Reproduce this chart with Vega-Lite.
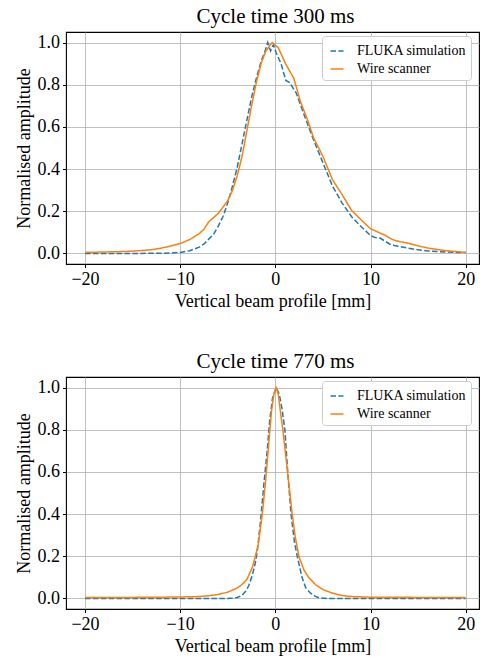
{
  "$schema": "https://vega.github.io/schema/vega-lite/v6.json",
  "padding": {"left": 14, "top": 5, "right": 0, "bottom": 0},
  "spacing": 38,
  "config": {
    "font": "Liberation Serif",
    "view": {"stroke": "black", "strokeWidth": 1.1},
    "title": {"font": "Liberation Serif", "fontSize": 21, "fontWeight": "normal", "color": "black", "offset": 5, "dx": 3},
    "axis": {
      "labelFont": "Liberation Serif", "labelFontSize": 18, "labelColor": "black",
      "titleFont": "Liberation Serif", "titleFontSize": 18, "titleFontWeight": "normal", "titleColor": "black",
      "gridColor": "#b0b0b0", "gridWidth": 0.8, "gridOpacity": 1,
      "domain": false, "tickColor": "black", "tickSize": 3.5, "tickWidth": 1, "labelPadding": 3, "titlePadding": 4
    },
    "legend": {
      "labelFont": "Liberation Serif", "labelFontSize": 14, "labelColor": "black",
      "orient": "none", "legendX": 256, "legendY": 4, "padding": 4,
      "fillColor": "white", "strokeColor": "#cccccc", "cornerRadius": 3,
      "symbolType": "M-0.65,0H0.65", "symbolSize": 400, "symbolStrokeWidth": 1.5,
      "labelOffset": 9, "rowPadding": -2, "title": null
    }
  },
  "vconcat": [
    {
      "title": "Cycle time 300 ms",
      "width": 413, "height": 232,
      "data": {"values": [
        {"x": -20, "amp": 0.0, "series": "FLUKA simulation"},
        {"x": -15, "amp": 0.0, "series": "FLUKA simulation"},
        {"x": -12, "amp": 0.001, "series": "FLUKA simulation"},
        {"x": -11, "amp": 0.002, "series": "FLUKA simulation"},
        {"x": -10, "amp": 0.005, "series": "FLUKA simulation"},
        {"x": -9, "amp": 0.013, "series": "FLUKA simulation"},
        {"x": -8, "amp": 0.03, "series": "FLUKA simulation"},
        {"x": -7.5, "amp": 0.045, "series": "FLUKA simulation"},
        {"x": -7, "amp": 0.068, "series": "FLUKA simulation"},
        {"x": -6.5, "amp": 0.09, "series": "FLUKA simulation"},
        {"x": -6, "amp": 0.13, "series": "FLUKA simulation"},
        {"x": -5.5, "amp": 0.175, "series": "FLUKA simulation"},
        {"x": -5, "amp": 0.24, "series": "FLUKA simulation"},
        {"x": -4.5, "amp": 0.32, "series": "FLUKA simulation"},
        {"x": -4, "amp": 0.41, "series": "FLUKA simulation"},
        {"x": -3.5, "amp": 0.52, "series": "FLUKA simulation"},
        {"x": -3, "amp": 0.63, "series": "FLUKA simulation"},
        {"x": -2.5, "amp": 0.74, "series": "FLUKA simulation"},
        {"x": -2, "amp": 0.83, "series": "FLUKA simulation"},
        {"x": -1.5, "amp": 0.91, "series": "FLUKA simulation"},
        {"x": -1, "amp": 0.97, "series": "FLUKA simulation"},
        {"x": -0.8, "amp": 1.0, "series": "FLUKA simulation"},
        {"x": -0.5, "amp": 0.96, "series": "FLUKA simulation"},
        {"x": -0.2, "amp": 0.99, "series": "FLUKA simulation"},
        {"x": 0.1, "amp": 0.95, "series": "FLUKA simulation"},
        {"x": 0.6, "amp": 0.9, "series": "FLUKA simulation"},
        {"x": 1.1, "amp": 0.82, "series": "FLUKA simulation"},
        {"x": 1.5, "amp": 0.81, "series": "FLUKA simulation"},
        {"x": 2.2, "amp": 0.76, "series": "FLUKA simulation"},
        {"x": 3, "amp": 0.66, "series": "FLUKA simulation"},
        {"x": 3.5, "amp": 0.6, "series": "FLUKA simulation"},
        {"x": 4, "amp": 0.54, "series": "FLUKA simulation"},
        {"x": 5, "amp": 0.43, "series": "FLUKA simulation"},
        {"x": 6, "amp": 0.32, "series": "FLUKA simulation"},
        {"x": 7, "amp": 0.24, "series": "FLUKA simulation"},
        {"x": 8, "amp": 0.175, "series": "FLUKA simulation"},
        {"x": 9, "amp": 0.128, "series": "FLUKA simulation"},
        {"x": 10, "amp": 0.085, "series": "FLUKA simulation"},
        {"x": 10.5, "amp": 0.075, "series": "FLUKA simulation"},
        {"x": 11, "amp": 0.073, "series": "FLUKA simulation"},
        {"x": 12, "amp": 0.045, "series": "FLUKA simulation"},
        {"x": 12.5, "amp": 0.038, "series": "FLUKA simulation"},
        {"x": 13, "amp": 0.033, "series": "FLUKA simulation"},
        {"x": 14, "amp": 0.025, "series": "FLUKA simulation"},
        {"x": 15, "amp": 0.017, "series": "FLUKA simulation"},
        {"x": 16, "amp": 0.012, "series": "FLUKA simulation"},
        {"x": 17, "amp": 0.009, "series": "FLUKA simulation"},
        {"x": 18, "amp": 0.007, "series": "FLUKA simulation"},
        {"x": 19, "amp": 0.005, "series": "FLUKA simulation"},
        {"x": 20, "amp": 0.004, "series": "FLUKA simulation"},
        {"x": -20, "amp": 0.005, "series": "Wire scanner"},
        {"x": -18, "amp": 0.007, "series": "Wire scanner"},
        {"x": -16, "amp": 0.009, "series": "Wire scanner"},
        {"x": -15, "amp": 0.011, "series": "Wire scanner"},
        {"x": -14, "amp": 0.014, "series": "Wire scanner"},
        {"x": -13, "amp": 0.018, "series": "Wire scanner"},
        {"x": -12, "amp": 0.025, "series": "Wire scanner"},
        {"x": -11, "amp": 0.035, "series": "Wire scanner"},
        {"x": -10, "amp": 0.047, "series": "Wire scanner"},
        {"x": -9, "amp": 0.066, "series": "Wire scanner"},
        {"x": -8, "amp": 0.094, "series": "Wire scanner"},
        {"x": -7.5, "amp": 0.115, "series": "Wire scanner"},
        {"x": -7, "amp": 0.15, "series": "Wire scanner"},
        {"x": -6, "amp": 0.19, "series": "Wire scanner"},
        {"x": -5, "amp": 0.25, "series": "Wire scanner"},
        {"x": -4.5, "amp": 0.3, "series": "Wire scanner"},
        {"x": -4, "amp": 0.37, "series": "Wire scanner"},
        {"x": -3.5, "amp": 0.46, "series": "Wire scanner"},
        {"x": -3, "amp": 0.58, "series": "Wire scanner"},
        {"x": -2.5, "amp": 0.7, "series": "Wire scanner"},
        {"x": -2, "amp": 0.81, "series": "Wire scanner"},
        {"x": -1.5, "amp": 0.9, "series": "Wire scanner"},
        {"x": -1, "amp": 0.96, "series": "Wire scanner"},
        {"x": -0.34, "amp": 1.0, "series": "Wire scanner"},
        {"x": 0.3, "amp": 0.976, "series": "Wire scanner"},
        {"x": 1.07, "amp": 0.9, "series": "Wire scanner"},
        {"x": 1.94, "amp": 0.83, "series": "Wire scanner"},
        {"x": 2.64, "amp": 0.72, "series": "Wire scanner"},
        {"x": 3.45, "amp": 0.625, "series": "Wire scanner"},
        {"x": 4, "amp": 0.55, "series": "Wire scanner"},
        {"x": 5, "amp": 0.46, "series": "Wire scanner"},
        {"x": 6, "amp": 0.35, "series": "Wire scanner"},
        {"x": 7, "amp": 0.28, "series": "Wire scanner"},
        {"x": 8, "amp": 0.205, "series": "Wire scanner"},
        {"x": 9, "amp": 0.16, "series": "Wire scanner"},
        {"x": 10, "amp": 0.117, "series": "Wire scanner"},
        {"x": 11, "amp": 0.097, "series": "Wire scanner"},
        {"x": 11.6, "amp": 0.085, "series": "Wire scanner"},
        {"x": 12.3, "amp": 0.066, "series": "Wire scanner"},
        {"x": 13, "amp": 0.057, "series": "Wire scanner"},
        {"x": 14, "amp": 0.048, "series": "Wire scanner"},
        {"x": 15, "amp": 0.036, "series": "Wire scanner"},
        {"x": 16, "amp": 0.026, "series": "Wire scanner"},
        {"x": 17, "amp": 0.019, "series": "Wire scanner"},
        {"x": 18, "amp": 0.013, "series": "Wire scanner"},
        {"x": 19, "amp": 0.009, "series": "Wire scanner"},
        {"x": 20, "amp": 0.005, "series": "Wire scanner"}
      ]},
      "mark": {"type": "line", "strokeWidth": 1.5, "clip": true},
      "encoding": {
        "x": {"field": "x", "type": "quantitative", "scale": {"domain": [-22, 21.4], "nice": false, "zero": false},
              "axis": {"values": [-20, -10, 0, 10, 20], "title": "Vertical beam profile [mm]"}},
        "y": {"field": "amp", "type": "quantitative", "scale": {"domain": [-0.05, 1.05], "nice": false},
              "axis": {"values": [0, 0.2, 0.4, 0.6, 0.8, 1.0], "format": ".1f", "title": "Normalised amplitude"}},
        "color": {"field": "series", "type": "nominal", "scale": {"domain": ["FLUKA simulation", "Wire scanner"], "range": ["#1f77b4", "#ff7f0e"]}, "legend": {"title": null}},
        "strokeDash": {"field": "series", "type": "nominal", "scale": {"domain": ["FLUKA simulation", "Wire scanner"], "range": [[5.5, 2.4], [1, 0]]}, "legend": {"title": null}},
        "order": {"field": "x", "type": "quantitative"}
      }
    },
    {
      "title": "Cycle time 770 ms",
      "width": 413, "height": 232,
      "data": {"values": [
        {"x": -20, "amp": 0.0, "series": "FLUKA simulation"},
        {"x": -10, "amp": 0.0, "series": "FLUKA simulation"},
        {"x": -5, "amp": 0.0, "series": "FLUKA simulation"},
        {"x": -4.5, "amp": 0.002, "series": "FLUKA simulation"},
        {"x": -4, "amp": 0.005, "series": "FLUKA simulation"},
        {"x": -3.5, "amp": 0.015, "series": "FLUKA simulation"},
        {"x": -3.1, "amp": 0.035, "series": "FLUKA simulation"},
        {"x": -2.8, "amp": 0.06, "series": "FLUKA simulation"},
        {"x": -2.4, "amp": 0.113, "series": "FLUKA simulation"},
        {"x": -2.1, "amp": 0.17, "series": "FLUKA simulation"},
        {"x": -1.9, "amp": 0.224, "series": "FLUKA simulation"},
        {"x": -1.56, "amp": 0.365, "series": "FLUKA simulation"},
        {"x": -1.21, "amp": 0.54, "series": "FLUKA simulation"},
        {"x": -0.86, "amp": 0.7, "series": "FLUKA simulation"},
        {"x": -0.6, "amp": 0.84, "series": "FLUKA simulation"},
        {"x": -0.3, "amp": 0.95, "series": "FLUKA simulation"},
        {"x": 0.1, "amp": 1.0, "series": "FLUKA simulation"},
        {"x": 0.4, "amp": 0.97, "series": "FLUKA simulation"},
        {"x": 0.7, "amp": 0.9, "series": "FLUKA simulation"},
        {"x": 1.0, "amp": 0.8, "series": "FLUKA simulation"},
        {"x": 1.3, "amp": 0.6, "series": "FLUKA simulation"},
        {"x": 1.65, "amp": 0.4, "series": "FLUKA simulation"},
        {"x": 2.0, "amp": 0.27, "series": "FLUKA simulation"},
        {"x": 2.3, "amp": 0.2, "series": "FLUKA simulation"},
        {"x": 2.8, "amp": 0.1, "series": "FLUKA simulation"},
        {"x": 3.2, "amp": 0.05, "series": "FLUKA simulation"},
        {"x": 3.7, "amp": 0.025, "series": "FLUKA simulation"},
        {"x": 4.2, "amp": 0.01, "series": "FLUKA simulation"},
        {"x": 4.6, "amp": 0.003, "series": "FLUKA simulation"},
        {"x": 5.5, "amp": 0.0, "series": "FLUKA simulation"},
        {"x": 20, "amp": 0.0, "series": "FLUKA simulation"},
        {"x": -20, "amp": 0.005, "series": "Wire scanner"},
        {"x": -15, "amp": 0.005, "series": "Wire scanner"},
        {"x": -12, "amp": 0.006, "series": "Wire scanner"},
        {"x": -10, "amp": 0.007, "series": "Wire scanner"},
        {"x": -8, "amp": 0.009, "series": "Wire scanner"},
        {"x": -7, "amp": 0.013, "series": "Wire scanner"},
        {"x": -6, "amp": 0.019, "series": "Wire scanner"},
        {"x": -5, "amp": 0.03, "series": "Wire scanner"},
        {"x": -4.5, "amp": 0.04, "series": "Wire scanner"},
        {"x": -4, "amp": 0.05, "series": "Wire scanner"},
        {"x": -3.5, "amp": 0.066, "series": "Wire scanner"},
        {"x": -3, "amp": 0.09, "series": "Wire scanner"},
        {"x": -2.43, "amp": 0.145, "series": "Wire scanner"},
        {"x": -2.1, "amp": 0.2, "series": "Wire scanner"},
        {"x": -1.8, "amp": 0.255, "series": "Wire scanner"},
        {"x": -1.38, "amp": 0.397, "series": "Wire scanner"},
        {"x": -1.03, "amp": 0.554, "series": "Wire scanner"},
        {"x": -0.68, "amp": 0.743, "series": "Wire scanner"},
        {"x": -0.4, "amp": 0.89, "series": "Wire scanner"},
        {"x": -0.15, "amp": 0.97, "series": "Wire scanner"},
        {"x": 0.08, "amp": 1.0, "series": "Wire scanner"},
        {"x": 0.3, "amp": 0.97, "series": "Wire scanner"},
        {"x": 0.55, "amp": 0.88, "series": "Wire scanner"},
        {"x": 0.79, "amp": 0.8, "series": "Wire scanner"},
        {"x": 1.28, "amp": 0.6, "series": "Wire scanner"},
        {"x": 1.77, "amp": 0.4, "series": "Wire scanner"},
        {"x": 2.1, "amp": 0.29, "series": "Wire scanner"},
        {"x": 2.47, "amp": 0.2, "series": "Wire scanner"},
        {"x": 3.0, "amp": 0.135, "series": "Wire scanner"},
        {"x": 3.5, "amp": 0.1, "series": "Wire scanner"},
        {"x": 4.2, "amp": 0.066, "series": "Wire scanner"},
        {"x": 5, "amp": 0.042, "series": "Wire scanner"},
        {"x": 6, "amp": 0.025, "series": "Wire scanner"},
        {"x": 7, "amp": 0.014, "series": "Wire scanner"},
        {"x": 8, "amp": 0.009, "series": "Wire scanner"},
        {"x": 10, "amp": 0.006, "series": "Wire scanner"},
        {"x": 15, "amp": 0.005, "series": "Wire scanner"},
        {"x": 20, "amp": 0.005, "series": "Wire scanner"}
      ]},
      "mark": {"type": "line", "strokeWidth": 1.5, "clip": true},
      "encoding": {
        "x": {"field": "x", "type": "quantitative", "scale": {"domain": [-22, 21.4], "nice": false, "zero": false},
              "axis": {"values": [-20, -10, 0, 10, 20], "title": "Vertical beam profile [mm]"}},
        "y": {"field": "amp", "type": "quantitative", "scale": {"domain": [-0.05, 1.05], "nice": false},
              "axis": {"values": [0, 0.2, 0.4, 0.6, 0.8, 1.0], "format": ".1f", "title": "Normalised amplitude"}},
        "color": {"field": "series", "type": "nominal", "scale": {"domain": ["FLUKA simulation", "Wire scanner"], "range": ["#1f77b4", "#ff7f0e"]}, "legend": {"title": null}},
        "strokeDash": {"field": "series", "type": "nominal", "scale": {"domain": ["FLUKA simulation", "Wire scanner"], "range": [[5.5, 2.4], [1, 0]]}, "legend": {"title": null}},
        "order": {"field": "x", "type": "quantitative"}
      }
    }
  ],
  "resolve": {"scale": {"color": "independent", "strokeDash": "independent"}, "legend": {"color": "independent", "strokeDash": "independent"}}
}
